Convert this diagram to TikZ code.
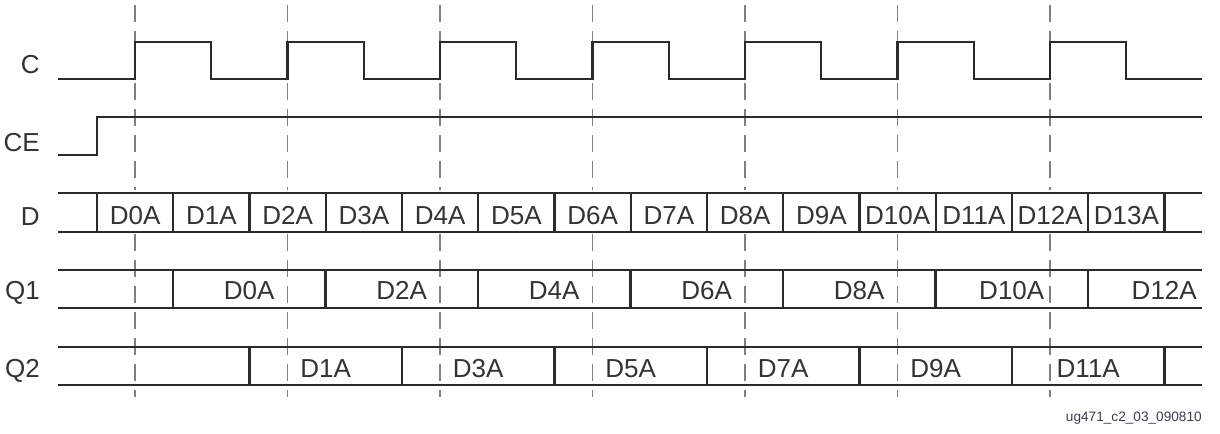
\documentclass[tikz,border=0pt]{standalone}
\usepackage{fontspec}
\setmainfont{Liberation Sans}
\usepackage{tikz}

\definecolor{sig}{HTML}{2B2B2B}
\definecolor{edgegray}{HTML}{808080}
\definecolor{txt}{HTML}{333333}
\definecolor{captxt}{HTML}{3C3C4E}

\tikzset{
  wave/.style={draw=sig,line width=1.6pt},
  clkmark/.style={draw=edgegray,line width=1.1pt,dash pattern=on 12pt off 6.5pt},
  signame/.style={anchor=base east,text=txt,inner sep=0pt,font=\fontsize{18.5}{21}\selectfont},
  busval/.style={anchor=base,text=txt,inner sep=0pt,font=\fontsize{18.5}{21}\selectfont}
}

\begin{document}
\begin{tikzpicture}[x=0.025cm,y=-0.025cm]
  \useasboundingbox (0,0) rectangle (1220,433);
  % rising edges of C
  \foreach \k in {0,...,6}{
    \draw[clkmark] ({135+152.5*\k},5) -- ({135+152.5*\k},190);
    \draw[clkmark] ({135+152.5*\k},234) -- ({135+152.5*\k},397);
  }
  % signal names
  \node[signame] (nameC) at (40,74) {C};
  \node[signame] (nameCE) at (40,151) {CE};
  \node[signame] (nameD) at (40,225) {D};
  \node[signame] (nameQ1) at (40,299) {Q1};
  \node[signame] (nameQ2) at (40,377) {Q2};
  % C
  \draw[wave] (58,79) \foreach \k in {0,...,6}{
      -- ({135+152.5*\k},79) -- ({135+152.5*\k},42)
      -- ({211.25+152.5*\k},42) -- ({211.25+152.5*\k},79)} -- (1202,79);
  % CE
  \draw[wave] (58,155) -- (97,155) -- (97,117) -- (1202,117);
  % D
  \draw[wave] (58,193) -- (1202,193);
  \draw[wave] (58,232) -- (1202,232);
  \foreach \k in {0,...,14}
    \draw[wave] ({97+76.25*\k},193) -- ({97+76.25*\k},232);
  \foreach \k in {0,...,13}
    \node[busval] (d\k) at ({135.1+76.25*\k},224) {D\k A};
  % Q1
  \draw[wave] (58,270) -- (1202,270);
  \draw[wave] (58,308) -- (1202,308);
  \foreach \k in {0,...,6}
    \draw[wave] ({173+152.5*\k},270) -- ({173+152.5*\k},308);
  \foreach \v [count=\k from 0] in {0,2,...,12}
    \node[busval] (qa\v) at ({249.25+152.5*\k},299) {D\v A};
  % Q2
  \draw[wave] (58,347) -- (1202,347);
  \draw[wave] (58,385) -- (1202,385);
  \foreach \k in {0,...,6}
    \draw[wave] ({249.5+152.5*\k},347) -- ({249.5+152.5*\k},385);
  \foreach \v [count=\k from 0] in {1,3,...,11}
    \node[busval] (qb\v) at ({325.75+152.5*\k},377) {D\v A};
  % figure tag
  \node[anchor=base east,inner sep=0pt,text=captxt,font=\fontsize{9.7}{11}\selectfont]
    (figtag) at (1202,421) {ug471\_c2\_03\_090810};
\end{tikzpicture}
\end{document}
